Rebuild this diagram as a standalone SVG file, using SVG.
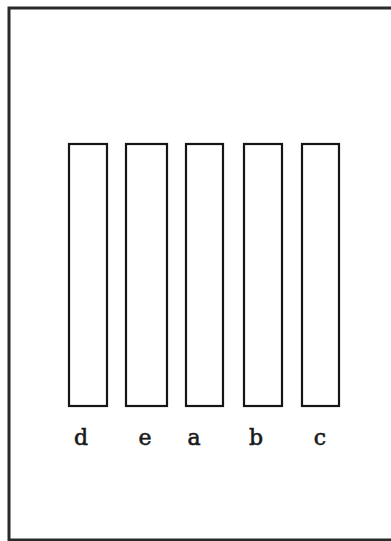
<svg xmlns="http://www.w3.org/2000/svg" width="391" height="541" viewBox="0 0 391 541">
<style>
.frame{fill:none;stroke:#2a2a2a;stroke-width:3}
.bar{fill:#fff;stroke:#151515;stroke-width:2.2}
.lbl{font-family:"DejaVu Serif","Liberation Serif",serif;font-size:22px;fill:#1a1a1a;stroke:#1a1a1a;stroke-width:0.6;text-anchor:middle}
</style>
<rect width="391" height="541" fill="#fff"/>
<g id="frame">
<polyline class="frame" points="391,8 9,8 9,540 391,540"/>
</g>
<g id="bar-d"><rect class="bar" x="69" y="144" width="38" height="262"/><text class="lbl" x="81" y="445">d</text></g>
<g id="bar-e"><rect class="bar" x="126" y="144" width="41" height="262"/><text class="lbl" x="145" y="445">e</text></g>
<g id="bar-a"><rect class="bar" x="186" y="144" width="37" height="262"/><text class="lbl" x="194" y="445">a</text></g>
<g id="bar-b"><rect class="bar" x="244" y="144" width="38" height="262"/><text class="lbl" x="256" y="445">b</text></g>
<g id="bar-c"><rect class="bar" x="302" y="144" width="37" height="262"/><text class="lbl" x="320" y="445">c</text></g>
<g id="connectors"/>
</svg>
